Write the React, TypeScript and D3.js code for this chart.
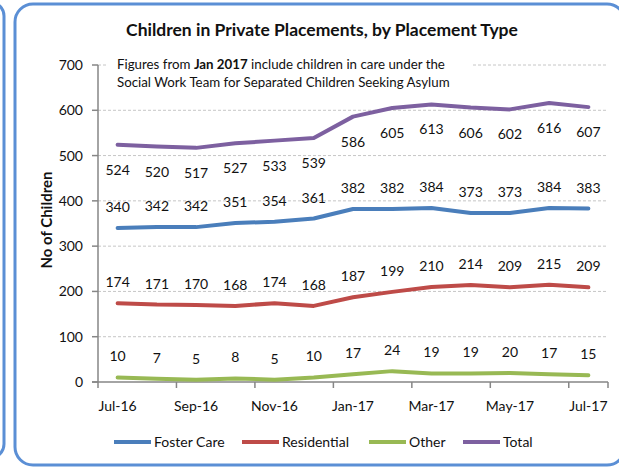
import React from "react";
import * as d3 from "d3";

const months = ["Jul-16", "Aug-16", "Sep-16", "Oct-16", "Nov-16", "Dec-16", "Jan-17", "Feb-17", "Mar-17", "Apr-17", "May-17", "Jun-17", "Jul-17"];
const fosterCare = [340, 342, 342, 351, 354, 361, 382, 382, 384, 373, 373, 384, 383];
const residential = [174, 171, 170, 168, 174, 168, 187, 199, 210, 214, 209, 215, 209];
const other = [10, 7, 5, 8, 5, 10, 17, 24, 19, 19, 20, 17, 15];
const total = [524, 520, 517, 527, 533, 539, 586, 605, 613, 606, 602, 616, 607];
const yTicks = [0, 100, 200, 300, 400, 500, 600, 700];

const FONT = "Lato, 'Open Sans', sans-serif";

const series = [
    {name: "Foster Care", values: fosterCare, color: "#4a7ebb", below: false},
    {name: "Residential", values: residential, color: "#be4b48", below: false},
    {name: "Other", values: other, color: "#98b954", below: false},
    {name: "Total", values: total, color: "#7d60a0", below: true},
];

const App: React.FC = () => {
    const left = 98, right = 608, top = 65, bottom = 382;

    const x = d3.scaleBand<string>().domain(months).range([left, right]).padding(0);
    const y = d3.scaleLinear().domain([0, 700]).range([bottom, top]);
    const cx = (m: string) => (x(m) as number) + x.bandwidth() / 2;

    const line = d3.line<number>()
        .x((_, i) => cx(months[i]))
        .y(d => y(d));

    // tick marks sit between categories, every second month
    const xTickIdx = months.map((_, i) => i).filter(i => i % 2 === 0);
    const legendX = [114, 242, 369, 463];

    return (
        <div style={{position: "fixed", left: 0, top: 0}}>
            <svg width={619} height={469} style={{display: "block", background: "#fff"}}>
                {/* panel borders */}
                <rect x={-40} y={2} width={44} height={456} rx={14} fill="none" stroke="#5b8fd5" strokeWidth={3}/>
                <rect x={15} y={4} width={610} height={461} rx={18} fill="none" stroke="#5b8fd5" strokeWidth={3}/>

                <text x={322} y={36} textAnchor="middle" fontFamily={FONT} fontWeight="bold" fontSize={17.5} fill="#111">
                    Children in Private Placements, by Placement Type
                </text>

                {/* gridlines */}
                {yTicks.filter(t => t > 0).map(t => (
                    <line key={t} x1={left} x2={right} y1={y(t)} y2={y(t)} stroke="#c6c6c6" strokeWidth={1} strokeDasharray="3,2"/>
                ))}

                {/* annotation box */}
                <rect x={106} y={52} width={366} height={40} fill="#fff"/>
                <text x={117} y={69} fontFamily={FONT} fontSize={13.3} fill="#111">
                    Figures from <tspan fontWeight="bold">Jan 2017</tspan> include  children in care under the
                </text>
                <text x={117} y={87} fontFamily={FONT} fontSize={13.3} fill="#111">
                    Social Work Team for Separated Children Seeking Asylum
                </text>

                {/* y axis */}
                <line x1={left} x2={left} y1={top} y2={bottom} stroke="#868686" strokeWidth={1.5}/>
                {yTicks.map(t => (
                    <g key={t}>
                        <line x1={left - 6} x2={left} y1={y(t)} y2={y(t)} stroke="#868686" strokeWidth={1.5}/>
                        <text x={83} y={y(t) + 5} textAnchor="end" fontFamily={FONT} fontSize={14} fill="#111">{t}</text>
                    </g>
                ))}
                <text transform={`translate(52,220) rotate(-90)`} textAnchor="middle" fontFamily={FONT} fontWeight="bold" fontSize={15} fill="#111">
                    No of Children
                </text>

                {/* x axis */}
                <line x1={left - 6} x2={right} y1={bottom} y2={bottom} stroke="#868686" strokeWidth={1.5}/>
                {[...xTickIdx, months.length].map(i => {
                    const xx = i < months.length ? (x(months[i]) as number) : right;
                    return <line key={i} x1={xx} x2={xx} y1={bottom} y2={bottom + 6} stroke="#868686" strokeWidth={1.5}/>;
                })}
                {xTickIdx.map(i => (
                    <text key={i} x={cx(months[i])} y={411} textAnchor="middle" fontFamily={FONT} fontSize={14} fill="#111">{months[i]}</text>
                ))}

                {/* lines */}
                {series.map(s => (
                    <path key={s.name} d={line(s.values) as string} fill="none" stroke={s.color} strokeWidth={4} strokeLinejoin="round" strokeLinecap="round"/>
                ))}

                {/* data labels */}
                {series.map(s => s.values.map((v, i) => (
                    <text key={s.name + i} x={cx(months[i])} y={s.below ? y(v) + 30 : y(v) - 16} textAnchor="middle" fontFamily={FONT} fontSize={14} fill="#111">{v}</text>
                )))}

                {/* legend */}
                {series.map((s, i) => (
                    <g key={s.name}>
                        <line x1={legendX[i]} x2={legendX[i] + 37} y1={442} y2={442} stroke={s.color} strokeWidth={4}/>
                        <text x={legendX[i] + 40} y={447} fontFamily={FONT} fontSize={14} fill="#111">{s.name}</text>
                    </g>
                ))}
            </svg>
        </div>
    );
};

export default App;
